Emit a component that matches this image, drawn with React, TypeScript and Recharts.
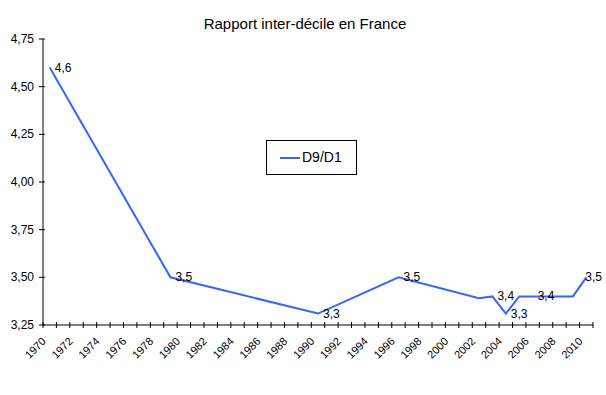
import React from "react";
import { LineChart, Line, XAxis, YAxis, Legend, LabelList } from "recharts";

const years = [1970, 1979, 1990, 1996, 2002, 2003, 2004, 2005, 2006, 2009, 2010];
const ratios = [4.6, 3.5, 3.31, 3.5, 3.39, 3.4, 3.31, 3.4, 3.4, 3.4, 3.5];
const labelledYears = [1970, 1979, 1990, 1996, 2003, 2004, 2006, 2010];
const yearTicks = [
  1970, 1972, 1974, 1976, 1978, 1980, 1982, 1984, 1986, 1988, 1990,
  1992, 1994, 1996, 1998, 2000, 2002, 2004, 2006, 2008, 2010,
];
const yTicks = [3.25, 3.5, 3.75, 4, 4.25, 4.5, 4.75];

const data = years.map((y, i) => ({ year: y, ratio: ratios[i] }));

const W = 606;
const H = 395;
const M = { top: 39, right: 13, bottom: 0, left: 0 };
const Y_W = 43;

// tick marks sit between the yearly categories, like in Excel
const first = years[0] - 0.5;
const last = years[years.length - 1] + 0.5;
const boundaries = Array.from({ length: last - first + 1 }, (_, i) => first + i);
const halfStep = (W - M.right - Y_W) / (last - first) / 2;

const font = "'Liberation Sans', Arial, sans-serif";

const YearTick = ({ x, y, payload }: any) => {
  const year = payload.value + 0.5;
  const tx = x + halfStep - 3;
  const ty = y + 17;
  return (
    <g>
      <line x1={x} x2={x} y1={y - 3} y2={y + 3} stroke="#000" />
      {yearTicks.includes(year) && (
        <text
          x={tx}
          y={ty}
          textAnchor="end"
          fontSize={11}
          fontFamily={font}
          fill="#000"
          transform={`rotate(-45 ${tx} ${ty})`}
        >
          {year}
        </text>
      )}
    </g>
  );
};

const ValueTick = ({ x, y, payload }: any) => (
  <g>
    <line x1={x - 4} x2={x + 2} y1={y} y2={y} stroke="#000" />
    <text x={x - 9} y={y + 4} textAnchor="end" fontSize={12} fontFamily={font} fill="#000">
      {payload.value.toFixed(2).replace(".", ",")}
    </text>
  </g>
);

const PointLabel = ({ x, y, value, index }: any) => {
  if (!labelledYears.includes(years[index])) return null;
  const isLast = index === years.length - 1;
  return (
    <text x={x + (isLast ? -1 : 5)} y={y + 4} fontSize={12} fontFamily={font} fill="#000">
      {Number(value).toFixed(1).replace(".", ",")}
    </text>
  );
};

const LegendBox = () => (
  <div
    style={{
      boxSizing: "border-box",
      width: 91,
      height: 35,
      border: "1px solid #000",
      background: "#fff",
      position: "relative",
      fontFamily: font,
      fontSize: 14,
    }}
  >
    <div style={{ position: "absolute", left: 13, top: 16, width: 20, height: 2, background: "#3366ff" }} />
    <div style={{ position: "absolute", left: 35, top: 8, lineHeight: "17px" }}>D9/D1</div>
  </div>
);

export default function App() {
  return (
    <div style={{ position: "relative", width: W, height: H, background: "#fff" }}>
      <style>{"body{margin:0}"}</style>
      <div
        style={{
          position: "absolute",
          left: 0,
          top: 15,
          width: 610,
          textAlign: "center",
          fontFamily: font,
          fontSize: 15,
          lineHeight: "18px",
          zIndex: 1,
        }}
      >
        Rapport inter-décile en France
      </div>
      <LineChart width={W} height={H} data={data} margin={M}>
        <XAxis
          dataKey="year"
          type="number"
          domain={[first, last]}
          ticks={boundaries}
          interval={0}
          height={70}
          tickSize={0}
          tickMargin={0}
          tickLine={false}
          tick={<YearTick />}
          axisLine={{ stroke: "#000" }}
        />
        <YAxis
          domain={[3.25, 4.75]}
          ticks={yTicks}
          interval={0}
          width={Y_W}
          tickSize={0}
          tickMargin={0}
          tickLine={false}
          axisLine={{ stroke: "#000" }}
          tick={<ValueTick />}
        />
        <Legend
          verticalAlign="middle"
          content={<LegendBox />}
          wrapperStyle={{ position: "absolute", left: 266, top: 140, width: 91, height: 35 }}
        />
        <Line
          dataKey="ratio"
          stroke="#3366ff"
          strokeWidth={2}
          dot={false}
          isAnimationActive={false}
        >
          <LabelList dataKey="ratio" content={<PointLabel />} />
        </Line>
      </LineChart>
    </div>
  );
}
